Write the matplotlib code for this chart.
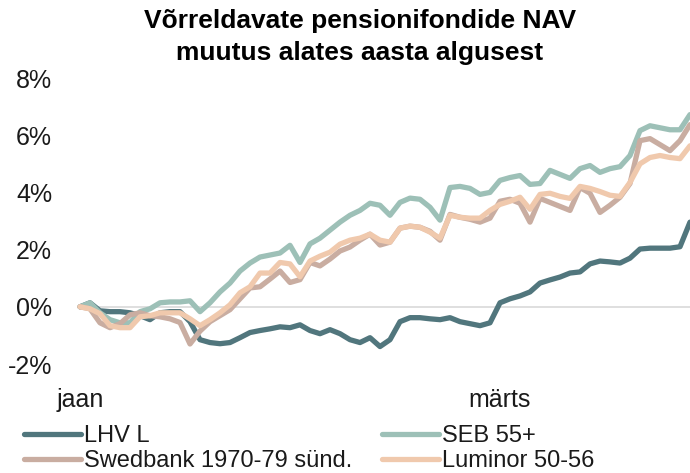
import matplotlib
matplotlib.use("Agg")
import matplotlib.pyplot as plt
from matplotlib.ticker import FuncFormatter

plt.rcParams['font.family'] = ['Liberation Sans', 'DejaVu Sans']

# ~trading days from start of year, evenly spaced
days = list(range(62))
tick_pos = [0, 42]
tick_lbl = ['jaan', 'märts']

lhv = [0.00, 0.14, -0.14, -0.17, -0.17, -0.21, -0.31, -0.45, -0.21, -0.17,
       -0.17, -0.52, -1.15, -1.25, -1.29, -1.25, -1.08, -0.90, -0.83, -0.77,
       -0.70, -0.73, -0.63, -0.83, -0.94, -0.80, -0.94, -1.15, -1.25, -1.08,
       -1.39, -1.15, -0.52, -0.38, -0.38, -0.42, -0.45, -0.38, -0.52, -0.59,
       -0.66, -0.56, 0.14, 0.28, 0.38, 0.52, 0.83, 0.94, 1.04, 1.18,
       1.22, 1.50, 1.60, 1.57, 1.53, 1.70, 2.02, 2.05, 2.05, 2.05,
       2.10, 2.96]
seb = [0.00, 0.14, -0.21, -0.45, -0.56, -0.56, -0.17, -0.07, 0.14, 0.17,
       0.17, 0.21, -0.17, 0.14, 0.52, 0.83, 1.25, 1.53, 1.74, 1.81,
       1.88, 2.15, 1.55, 2.20, 2.40, 2.68, 2.96, 3.20, 3.37, 3.62,
       3.55, 3.20, 3.65, 3.80, 3.76, 3.48, 3.03, 4.17, 4.21, 4.14,
       3.93, 4.00, 4.42, 4.52, 4.59, 4.28, 4.31, 4.77, 4.63, 4.49,
       4.83, 4.94, 4.70, 4.83, 4.90, 5.29, 6.16, 6.33, 6.26, 6.19,
       6.19, 6.72]
swed = [0.00, -0.07, -0.56, -0.73, -0.59, -0.28, -0.21, -0.31, -0.35, -0.42,
        -0.55, -1.30, -0.85, -0.52, -0.31, -0.10, 0.28, 0.66, 0.70, 0.97,
        1.25, 0.85, 0.95, 1.55, 1.43, 1.67, 1.95, 2.09, 2.33, 2.54,
        2.16, 2.26, 2.75, 2.82, 2.78, 2.64, 2.33, 3.23, 3.13, 3.06,
        2.96, 3.10, 3.69, 3.76, 3.62, 2.96, 3.79, 3.65, 3.51, 3.37,
        4.17, 3.97, 3.30, 3.55, 3.83, 4.31, 5.81, 5.88, 5.67, 5.46,
        5.81, 6.37]
lum = [0.00, -0.07, -0.24, -0.66, -0.73, -0.73, -0.35, -0.31, -0.21, -0.21,
       -0.21, -0.42, -0.66, -0.45, -0.21, 0.07, 0.49, 0.70, 1.18, 1.18,
       1.55, 1.50, 1.05, 1.60, 1.77, 1.91, 2.19, 2.33, 2.40, 2.54,
       2.33, 2.26, 2.75, 2.82, 2.78, 2.61, 2.40, 3.20, 3.13, 3.10,
       3.10, 3.37, 3.58, 3.69, 3.83, 3.41, 3.93, 3.97, 3.86, 3.79,
       4.21, 4.14, 4.03, 3.90, 3.86, 4.35, 5.00, 5.22, 5.29, 5.22,
       5.18, 5.63]

names = ['LHV L', 'SEB 55+', 'Swedbank 1970-79 sünd.', 'Luminor 50-56']
colors = ['#51767d', '#9dc0b7', '#c9ada1', '#f0c9ad']

fig = plt.figure(figsize=(6.9, 4.73), dpi=100)
ax = fig.add_axes([80 / 690, 109 / 473, 610 / 690, 286 / 473])

ax.axhline(0, color='#d9d9d9', lw=1.2, zorder=1)
series = [lhv, seb, swed, lum]
lines = {}
for s, n, c in zip(series, names, colors):
    ln, = ax.plot(days, s, color=c, lw=3.8, solid_joinstyle='round',
                  solid_capstyle='round', clip_on=False, zorder=2, label=n)
    lines[n] = ln

ax.set_xlim(0, 61)
ax.set_ylim(-2, 8)
ax.set_yticks([-2, 0, 2, 4, 6, 8])
ax.yaxis.set_major_formatter(FuncFormatter(lambda v, p: '%d%%' % v))
ax.set_xticks(tick_pos)
ax.set_xticklabels(tick_lbl)
for sp in ax.spines.values():
    sp.set_visible(False)
ax.tick_params(length=0, labelsize=18, colors='#1a1a1a')
ax.tick_params(axis='y', pad=20)
ax.tick_params(axis='x', pad=17)

fig.text(360 / 690, 1 - 21 / 473, 'Võrreldavate pensionifondide NAV',
         ha='center', va='center', fontsize=19, fontweight='bold')
fig.text(360 / 690, 1 - 53 / 473, 'muutus alates aasta algusest',
         ha='center', va='center', fontsize=19, fontweight='bold')

order = ['LHV L', 'Swedbank 1970-79 sünd.', 'SEB 55+', 'Luminor 50-56']
leg = fig.legend([lines[n] for n in order], order, ncol=2, loc='upper left',
                 bbox_to_anchor=(24 / 690, 1 - 425 / 473), frameon=False,
                 fontsize=17, handlelength=2.4, handletextpad=0.12,
                 columnspacing=1.3, labelspacing=0.12, borderaxespad=0,
                 borderpad=0)
for t in leg.get_texts():
    t.set_color('#1a1a1a')

fig.savefig('out.png', dpi=100)
